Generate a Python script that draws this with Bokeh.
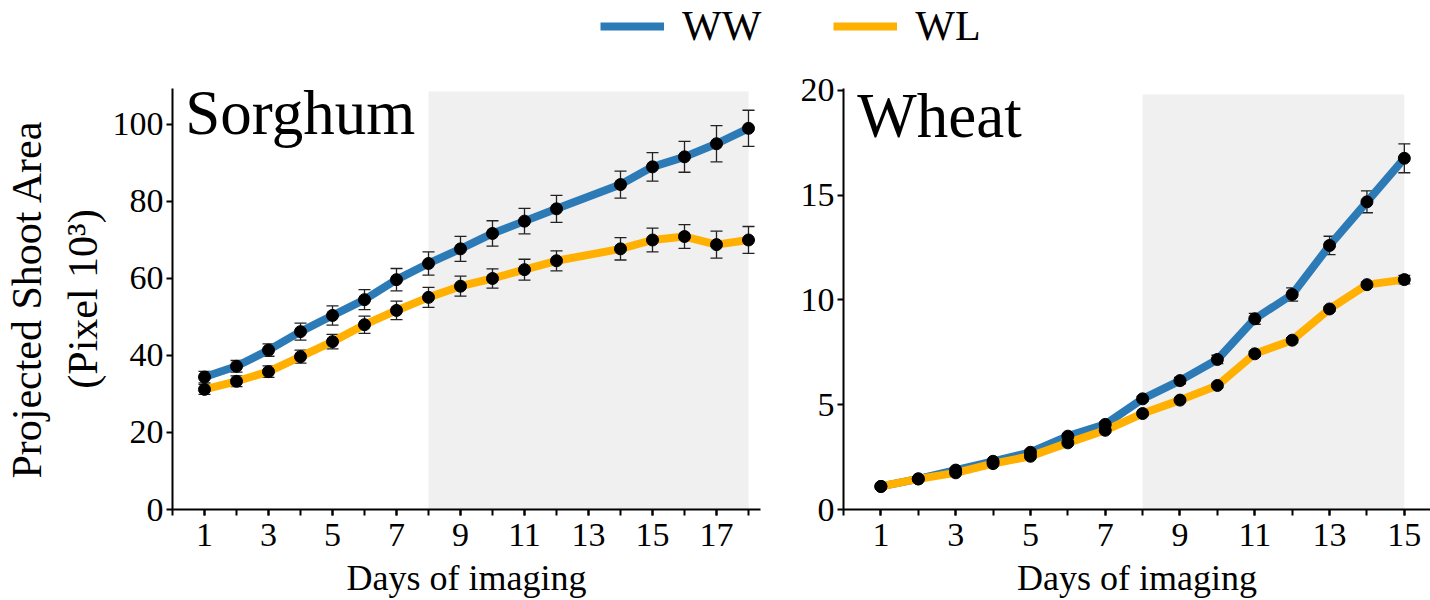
from bokeh.plotting import figure
from bokeh.models import (Range1d, FixedTicker, Whisker, TeeHead, ColumnDataSource,
                          BoxAnnotation, Label, Legend, LegendItem)
from bokeh.layouts import column, row
from bokeh.embed import file_html
from bokeh.resources import INLINE

FONT = "Liberation Serif"
BLUE = "#2c7bb6"
ORANGE = "#ffb000"
SHADE = "#f0f0f0"

# ---------------- data ----------------
series_names = ["WW", "WL"]

sorghum_days = [1, 2, 3, 4, 5, 6, 7, 8, 9, 10, 11, 12, 14, 15, 16, 17, 18]
sorghum_ww = [34.4, 37.2, 41.4, 46.2, 50.4, 54.5, 59.7, 63.9, 67.7, 71.7, 74.9, 78.1,
              84.4, 89.0, 91.6, 95.0, 99.0]
sorghum_ww_err = [1.5, 1.5, 1.6, 2.2, 2.5, 2.6, 2.9, 3.0, 3.25, 3.3, 3.3, 3.5,
                  3.5, 3.7, 4.0, 4.7, 4.7]
sorghum_wl = [31.2, 33.3, 35.8, 39.7, 43.6, 48.0, 51.7, 55.1, 58.0, 60.0, 62.3, 64.6,
              67.7, 70.0, 70.9, 68.8, 70.0]
sorghum_wl_err = [1.3, 1.4, 1.5, 1.7, 1.9, 2.25, 2.4, 2.6, 2.6, 2.5, 2.7, 2.6,
                  2.9, 3.1, 3.1, 3.5, 3.5]

wheat_days = [1, 2, 3, 4, 5, 6, 7, 8, 9, 10, 11, 12, 13, 14, 15]
wheat_ww = [1.10, 1.46, 1.88, 2.30, 2.73, 3.50, 4.06, 5.28, 6.15, 7.16, 9.10, 10.26,
            12.6, 14.68, 16.76]
wheat_ww_err = [0.05, 0.06, 0.08, 0.08, 0.10, 0.10, 0.12, 0.12, 0.15, 0.20, 0.26, 0.32,
                0.44, 0.52, 0.69]
wheat_wl = [1.10, 1.46, 1.75, 2.19, 2.54, 3.18, 3.78, 4.58, 5.22, 5.92, 7.43, 8.08,
            9.57, 10.73, 10.97]
wheat_wl_err = [0.05, 0.05, 0.06, 0.07, 0.08, 0.10, 0.10, 0.10, 0.10, 0.10, 0.12, 0.12,
                0.10, 0.12, 0.20]

sorghum_yticks = [0, 20, 40, 60, 80, 100]
wheat_yticks = [0, 5, 10, 15, 20]
sorghum_xticks = list(range(1, 18, 2))
wheat_xticks = list(range(1, 16, 2))

sorghum_shade = (8, 18, 108.6)
wheat_shade = (8, 15, 19.8)

x_label = "Days of imaging"
y_label = "Projected Shoot Area\n(Pixel 10³)"


def style_axes(p):
    for ax in (p.xaxis[0], p.yaxis[0]):
        ax.axis_line_color = "black"
        ax.axis_line_width = 2
        ax.major_tick_line_color = "black"
        ax.major_tick_line_width = 2
        ax.major_tick_out = 6
        ax.major_tick_in = 0
        ax.minor_tick_line_color = "black"
        ax.minor_tick_line_width = 2
        ax.minor_tick_out = 6
        ax.minor_tick_in = 0
        ax.major_label_text_font = FONT
        ax.major_label_text_font_size = "34px"
        ax.major_label_text_color = "black"
        ax.axis_label_text_font = FONT
        ax.axis_label_text_font_style = "normal"
        ax.axis_label_text_color = "black"


def make_panel(days, ww, ww_err, wl, wl_err, xmax, ymax, xticks, yticks, shade,
               title, title_pos, width, borders, ylabel=None):
    left, right, top, bottom = borders
    p = figure(width=width, height=540, x_range=Range1d(0, xmax), y_range=Range1d(0, ymax),
               toolbar_location=None, output_backend="svg",
               min_border_left=left, min_border_right=right,
               min_border_top=top, min_border_bottom=bottom)
    p.grid.visible = False
    p.outline_line_color = None

    p.add_layout(BoxAnnotation(left=shade[0], right=shade[1], bottom=0, top=shade[2],
                               fill_color=SHADE, fill_alpha=1, line_color=None,
                               level="underlay"))

    for vals, errs, col in ((ww, ww_err, BLUE), (wl, wl_err, ORANGE)):
        src = ColumnDataSource(dict(x=days, y=vals,
                                    lower=[v - e for v, e in zip(vals, errs)],
                                    upper=[v + e for v, e in zip(vals, errs)]))
        p.line("x", "y", source=src, line_color=col, line_width=8, line_join="round")
        p.add_layout(Whisker(base="x", lower="lower", upper="upper", source=src,
                             line_color="#222222", line_width=1.3,
                             upper_head=TeeHead(size=12, line_color="#222222", line_width=1.3),
                             lower_head=TeeHead(size=12, line_color="#222222", line_width=1.3)))
    for vals in (ww, wl):
        p.scatter(days, vals, size=12, fill_color="black", line_color="black")

    p.xaxis.ticker = FixedTicker(ticks=xticks, minor_ticks=list(range(0, int(xmax) + 1)))
    p.yaxis.ticker = FixedTicker(ticks=yticks, minor_ticks=[])
    style_axes(p)
    p.xaxis.axis_label = x_label
    p.xaxis.axis_label_text_font_size = "36px"
    p.xaxis.major_label_standoff = 8
    p.xaxis.axis_label_standoff = 9
    p.yaxis.major_label_standoff = 3
    if ylabel:
        p.yaxis.axis_label = ylabel
        p.yaxis.axis_label_text_font_size = "42px"
        p.yaxis.axis_label_standoff = 4

    p.add_layout(Label(x=title_pos[0], y=title_pos[1], text=title, text_font=FONT,
                       text_font_size="63px", text_color="black",
                       text_baseline="middle", text_align="left"))
    return p


p1 = make_panel(sorghum_days, sorghum_ww, sorghum_ww_err, sorghum_wl, sorghum_wl_err,
                18.375, 109.35, sorghum_xticks, sorghum_yticks, sorghum_shade,
                "Sorghum", (0.4, 103.0), 780, (172, 20, 28, 91), ylabel=y_label)
p2 = make_panel(wheat_days, wheat_ww, wheat_ww_err, wheat_wl, wheat_wl_err,
                15.7, 20.09, wheat_xticks, wheat_yticks, wheat_shade,
                "Wheat", (0.37, 18.8), 650, (63, 0, 28, 91))

# ---------------- legend strip ----------------
leg = figure(width=1430, height=60, x_range=Range1d(0, 1), y_range=Range1d(0, 1),
             x_axis_type=None, y_axis_type=None, toolbar_location=None,
             output_backend="svg", min_border=0)
leg.grid.visible = False
leg.outline_line_color = None
r_ww = leg.line(x=[-2, -1], y=[-2, -2], line_color=BLUE, line_width=8)
r_wl = leg.line(x=[-2, -1], y=[-2, -2], line_color=ORANGE, line_width=8)
legend = Legend(items=[LegendItem(label=series_names[0], renderers=[r_ww]),
                       LegendItem(label=series_names[1], renderers=[r_wl])],
                orientation="horizontal", location=(600, 10),
                glyph_width=64, glyph_height=20, label_standoff=18, spacing=72,
                padding=0, margin=0, border_line_color=None, background_fill_alpha=0,
                label_text_font=FONT, label_text_font_size="42px",
                label_text_color="black")
leg.add_layout(legend, "center")

layout = column(leg, row(p1, p2))
open("out.html", "w").write(file_html(layout, INLINE))
